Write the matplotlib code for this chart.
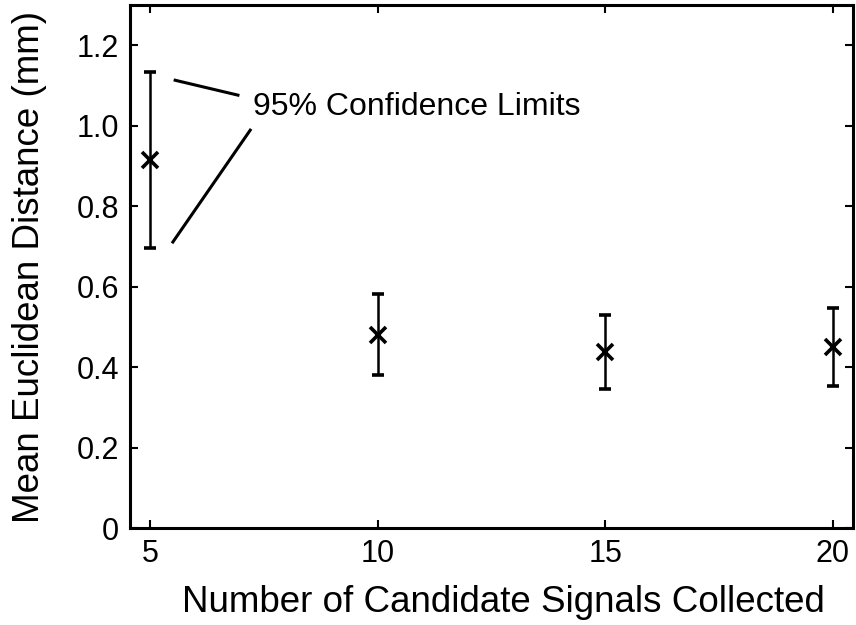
import matplotlib.pyplot as plt
import numpy as np

plt.rcParams['font.family'] = ['Liberation Sans', 'DejaVu Sans']

# data
n_signals = [5, 10, 15, 20]
mean_dist = [0.914, 0.479, 0.437, 0.450]
upper_lim = [1.133, 0.581, 0.529, 0.547]
lower_lim = [0.696, 0.380, 0.345, 0.353]

xticks = [5, 10, 15, 20]
yticks = [0, 0.2, 0.4, 0.6, 0.8, 1.0, 1.2]
ytick_labels = ['0', '0.2', '0.4', '0.6', '0.8', '1.0', '1.2']

mean_dist = np.array(mean_dist)
err = [mean_dist - np.array(lower_lim), np.array(upper_lim) - mean_dist]

fig = plt.figure(figsize=(8.56, 6.25), dpi=100)
ax = fig.add_axes([0.152, 0.155, 0.8445, 0.837])

ax.errorbar(n_signals, mean_dist, yerr=err, fmt='x', color='black',
            ecolor='black', elinewidth=1.8, capsize=4.5, capthick=1.8,
            markersize=11, markeredgewidth=2.6)

ax.set_xlim(4.56, 20.45)
ax.set_ylim(0, 1.3)
ax.set_xticks(xticks)
ax.set_yticks(yticks)
ax.set_yticklabels(ytick_labels)
ax.tick_params(direction='in', length=6, width=1.5, top=True, right=True,
               labelsize=22, pad=8)
for s in ax.spines.values():
    s.set_linewidth(2.2)

ax.set_xlabel('Number of Candidate Signals Collected', fontsize=26.5)
ax.set_ylabel('Mean Euclidean Distance (mm)', fontsize=26.5)
ax.xaxis.set_label_coords(0.517, -0.108)
ax.yaxis.set_label_coords(-0.115, 0.5)

# annotation pointing at the confidence limits of the first point
ax.text(7.26, 1.046, '95% Confidence Limits', fontsize=23, va='center', ha='left')
ax.plot([5.55, 6.93], [1.113, 1.076], color='black', lw=2.2)
ax.plot([7.2, 5.5], [0.989, 0.711], color='black', lw=2.2)

fig.savefig('out.png', dpi=100)
